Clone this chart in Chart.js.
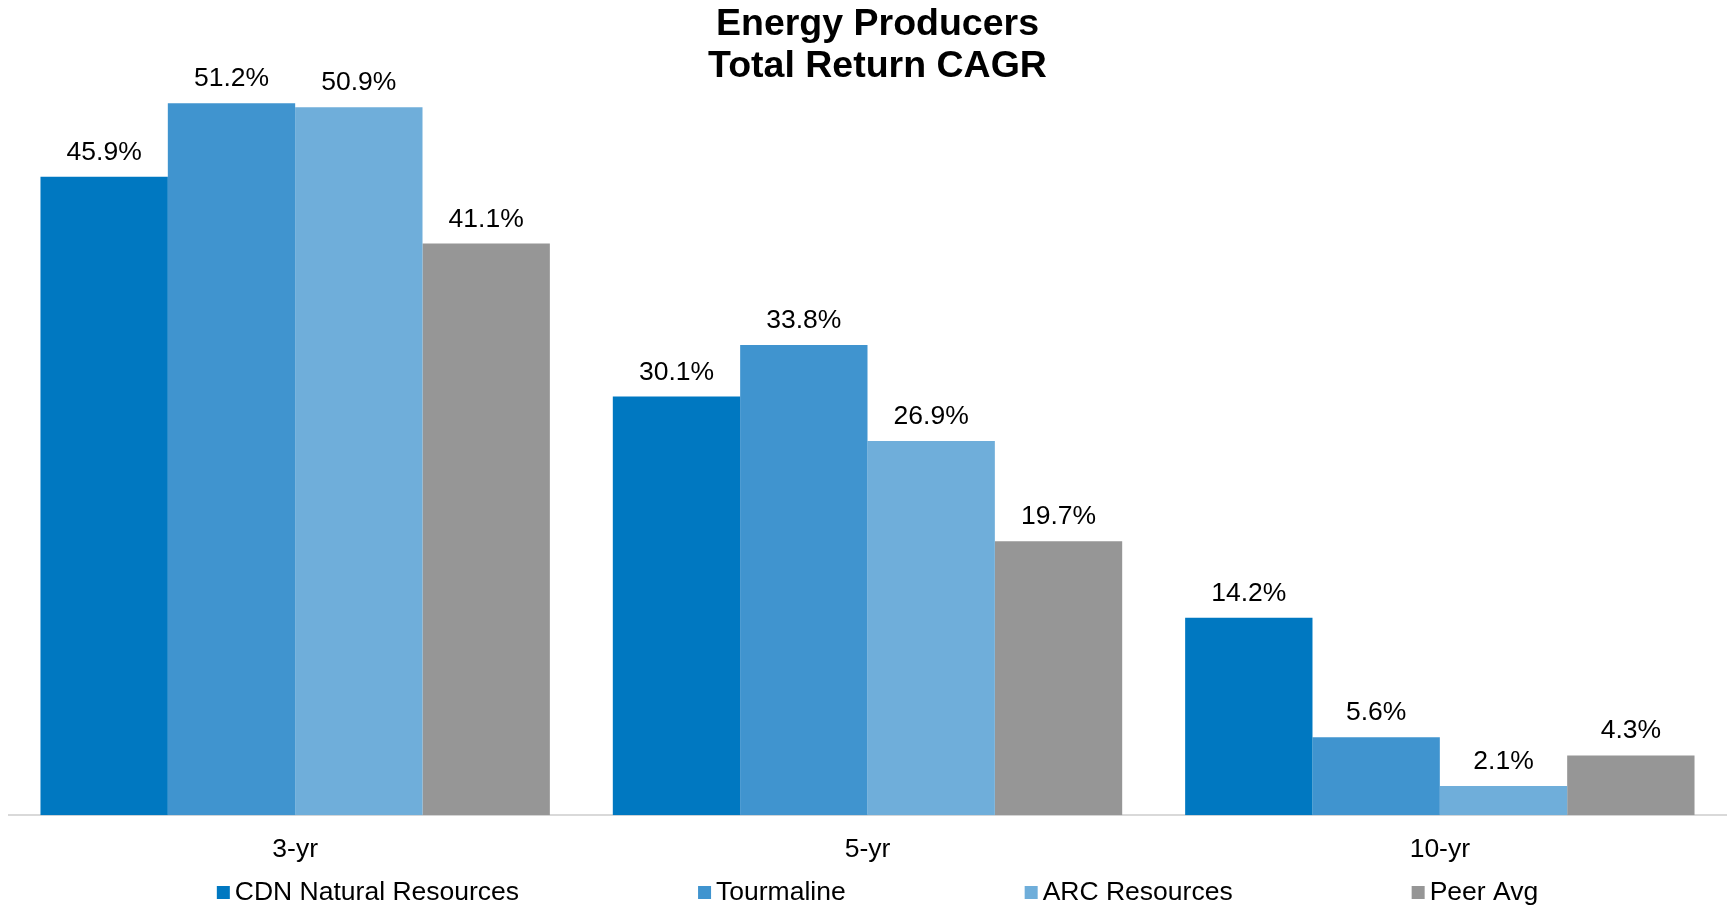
<!DOCTYPE html>
<html>
<head>
<meta charset="utf-8">
<script src="https://cdn.jsdelivr.net/npm/chart.js@4.4.1/dist/chart.umd.min.js"></script>
<style>
html,body{margin:0;padding:0;background:#ffffff;overflow:hidden;}
#wrap{width:1729px;height:906px;position:relative;}
canvas{display:block;}
</style>
</head>
<body>
<div id="wrap"><canvas id="c" width="1729" height="906"></canvas></div>
<script>
// ---- data ----
const categories = ['3-yr', '5-yr', '10-yr'];
const seriesNames = ['CDN Natural Resources', 'Tourmaline', 'ARC Resources', 'Peer Avg'];
const cdnNaturalResources = [45.9, 30.1, 14.2];
const tourmaline = [51.2, 33.8, 5.6];
const arcResources = [50.9, 26.9, 2.1];
const peerAvg = [41.1, 19.7, 4.3];
const titleLines = ['Energy Producers', 'Total Return CAGR'];

// ---- styles ----
const seriesColors = ['#0078C1', '#4094CF', '#6FAEDA', '#969696'];
const FONT = '"Liberation Sans", Arial, Helvetica, sans-serif';

const seriesValues = [cdnNaturalResources, tourmaline, arcResources, peerAvg];

const titlePlugin = {
  id: 'customTitle',
  afterDraw(chart) {
    const ctx = chart.ctx;
    ctx.save();
    ctx.font = 'bold 37.5px ' + FONT;
    ctx.fillStyle = '#000000';
    ctx.textAlign = 'center';
    ctx.textBaseline = 'middle';
    const ca = chart.chartArea;
    const cx = (ca.left + ca.right) / 2 + 10;
    titleLines.forEach((line, i) => {
      ctx.fillText(line, cx, 25 + i * 42);
    });
    ctx.restore();
  }
};

const dataLabelPlugin = {
  id: 'dataLabels',
  afterDatasetsDraw(chart) {
    const ctx = chart.ctx;
    ctx.save();
    ctx.font = '26.5px ' + FONT;
    ctx.fillStyle = '#000000';
    ctx.textAlign = 'center';
    ctx.textBaseline = 'alphabetic';
    chart.data.datasets.forEach((ds, di) => {
      const meta = chart.getDatasetMeta(di);
      meta.data.forEach((el, i) => {
        ctx.fillText(ds.data[i].toFixed(1) + '%', el.x, el.y - 17);
      });
    });
    ctx.restore();
  }
};

const customLegendPlugin = {
  id: 'customLegend',
  afterDraw(chart) {
    const ctx = chart.ctx;
    ctx.save();
    ctx.font = '26.5px ' + FONT;
    ctx.textBaseline = 'middle';
    ctx.textAlign = 'left';
    const box = 13, boxGap = 5, itemGap = 179;
    const items = chart.data.datasets.map(ds => ({
      text: ds.label, color: ds.backgroundColor, w: box + boxGap + ctx.measureText(ds.label).width
    }));
    const total = items.reduce((s, it) => s + it.w, 0) + itemGap * (items.length - 1);
    const ca = chart.chartArea;
    let x = (ca.left + ca.right) / 2 + 10 - total / 2;
    const cy = 892;
    items.forEach(it => {
      ctx.fillStyle = it.color;
      ctx.fillRect(x, cy - 6, box, box);
      ctx.fillStyle = '#000000';
      ctx.fillText(it.text, x + box + boxGap, cy + 1);
      x += it.w + itemGap;
    });
    ctx.restore();
  }
};

new Chart(document.getElementById('c'), {
  type: 'bar',
  data: {
    labels: categories,
    datasets: seriesNames.map((name, i) => ({
      label: name,
      data: seriesValues[i],
      backgroundColor: seriesColors[i],
      borderWidth: 0,
      categoryPercentage: 0.89,
      barPercentage: 1.0
    }))
  },
  options: {
    responsive: false,
    animation: false,
    devicePixelRatio: 1,
    layout: { padding: { left: 9, right: 3, top: 92, bottom: 21 } },
    plugins: {
      legend: { display: false },
      tooltip: { enabled: false },
      title: { display: false }
    },
    scales: {
      x: {
        grid: { display: false, drawTicks: false },
        border: { display: true, color: '#D9D9D9', width: 2 },
        ticks: { color: '#000000', font: { family: FONT, size: 26.5 }, padding: 19 }
      },
      y: {
        display: false,
        min: 0,
        max: 52
      }
    }
  },
  plugins: [dataLabelPlugin, customLegendPlugin, titlePlugin]
});
</script>
</body>
</html>
